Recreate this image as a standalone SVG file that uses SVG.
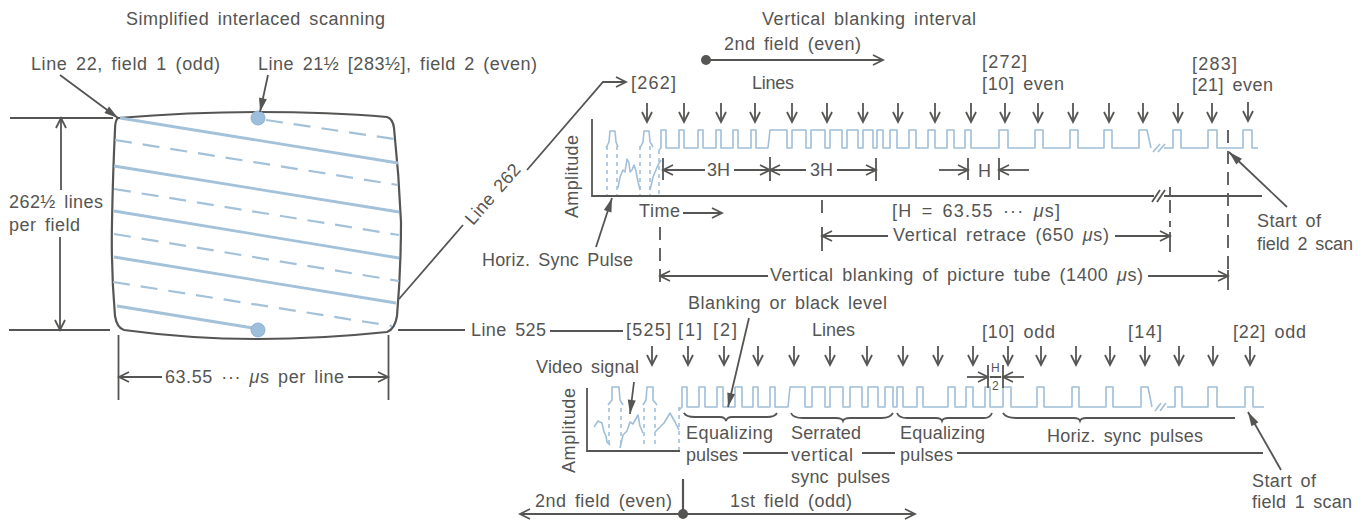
<svg xmlns="http://www.w3.org/2000/svg" width="1368" height="520" viewBox="0 0 1368 520">
<style>
text{font-family:"Liberation Sans",Arial,sans-serif;font-size:18px;fill:#555553;word-spacing:3px}
text.small{font-size:12px;word-spacing:0}
.l{fill:none;stroke:#555553;stroke-width:1.8}
.t{fill:none;stroke:#555553;stroke-width:2.2}
.a{marker-end:url(#open)}
.s{marker-end:url(#solid)}
.d{fill:none;stroke:#555553;stroke-width:1.8;stroke-dasharray:13 8}
.sc{fill:none;stroke:#a3c1d9;stroke-width:2.8}
.sd{fill:none;stroke:#a3c1d9;stroke-width:2.2;stroke-dasharray:17 11}
.w{fill:none;stroke:#a0bfd8;stroke-width:1.6;stroke-linejoin:round}
.wd{fill:none;stroke:#a3c1d9;stroke-width:1.6;stroke-dasharray:4 4}
.dot{fill:#9dbfdc;stroke:#8fb3cf}
</style>
<defs>
<marker id="open" markerUnits="userSpaceOnUse" markerWidth="14" markerHeight="14" viewBox="-12 -7 14 14" refX="0" refY="0" orient="auto-start-reverse"><path d="M-10,-5 L0,0 L-10,5" fill="none" stroke="#555553" stroke-width="1.8"/></marker>
<marker id="solid" markerUnits="userSpaceOnUse" markerWidth="18" markerHeight="10" viewBox="-16 -5 18 10" refX="0" refY="0" orient="auto"><path d="M-14,-4 L0,0 L-14,4 Z" fill="#555553"/></marker>
<g id="da"><path class="l a" d="M0,0 V19"/></g>
</defs>
<rect width="1368" height="520" fill="#fff"/>

<g id="raster">
<path class="t" d="M118,118 Q190,112 258,112 Q330,112 387,117 Q393,119 394,128 Q399,175 401,222 Q401,270 397,316 Q395,329 387,332 Q320,339 258,339 Q190,339 124,330 Q117,328 115,316 Q111,270 112,222 Q113,170 115,130 Q115,120 118,118 Z"/>
<path class="sc" d="M120,118 L398,163 M114,166 L399,212 M114,211 L399,258 M114,257 L396,303 M117,306 L253,328"/>
<path class="sd" d="M266,120 L394,139 M115,140 L398,185 M114,189 L399,235 M114,234 L399,281 M113,282 L392,326"/>
<circle class="dot" cx="258" cy="118" r="7"/>
<circle class="dot" cx="258" cy="330" r="7"/>
</g>

<g id="raster-labels">
<text x="126" y="25" textLength="259">Simplified interlaced scanning</text>
<text x="31" y="70" textLength="189">Line 22, field 1 (odd)</text>
<text x="258" y="70" textLength="279">Line 21½ [283½], field 2 (even)</text>
<text x="9" y="208" textLength="94">262½ lines</text>
<text x="9" y="231" textLength="71">per field</text>
<text x="165" y="383" textLength="179">63.55 ··· <tspan font-style="italic">μ</tspan>s per line</text>
<text x="471" y="336" textLength="75">Line 525</text>
</g>

<g id="chart-top-labels">
<text x="762" y="25" textLength="214">Vertical blanking interval</text>
<text x="724" y="50" textLength="137">2nd field (even)</text>
<text x="631" y="89" textLength="45">[262]</text>
<text x="752" y="89" textLength="42">Lines</text>
<text x="982" y="68" textLength="45">[272]</text>
<text x="982" y="90" textLength="82">[10] even</text>
<text x="1192" y="70" textLength="45">[283]</text>
<text x="1192" y="91" textLength="81">[21] even</text>
<text x="707" y="176">3H</text>
<text x="810" y="176">3H</text>
<text x="978" y="177">H</text>
<text transform="translate(578,218) rotate(-90)" textLength="83">Amplitude</text>
<text x="639" y="217" textLength="41">Time</text>
<text x="892" y="217" textLength="168">[H = 63.55 ··· <tspan font-style="italic">μ</tspan>s]</text>
<text x="893" y="241" textLength="216">Vertical retrace (650 <tspan font-style="italic">μ</tspan>s)</text>
<text x="770" y="281" textLength="373">Vertical blanking of picture tube (1400 <tspan font-style="italic">μ</tspan>s)</text>
<text x="482" y="266" textLength="151">Horiz. Sync Pulse</text>
<text x="1257" y="227" textLength="64">Start of</text>
<text x="1257" y="250" textLength="96">field 2 scan</text>
<text transform="translate(473,226) rotate(-49)" textLength="74">Line 262</text>
</g>

<g id="chart-bottom-labels">
<text x="688" y="309" textLength="199">Blanking or black level</text>
<text x="626" y="336" textLength="45">[525]</text>
<text x="678" y="336" textLength="24">[1]</text>
<text x="713" y="336" textLength="24">[2]</text>
<text x="812" y="336" textLength="43">Lines</text>
<text x="982" y="338" textLength="73">[10] odd</text>
<text x="1128" y="338" textLength="34">[14]</text>
<text x="1233" y="338" textLength="73">[22] odd</text>
<text x="536" y="373" textLength="103">Video signal</text>
<text transform="translate(575,473) rotate(-90)" textLength="85">Amplitude</text>
<text class="small" x="991" y="372">H</text>
<text class="small" x="992" y="390">2</text>
<text x="686" y="439" textLength="87">Equalizing</text>
<text x="686" y="461" textLength="52">pulses</text>
<text x="791" y="439" textLength="70">Serrated</text>
<text x="791" y="461" textLength="62">vertical</text>
<text x="791" y="483" textLength="99">sync pulses</text>
<text x="900" y="439" textLength="85">Equalizing</text>
<text x="900" y="461" textLength="53">pulses</text>
<text x="1047" y="442" textLength="156">Horiz. sync pulses</text>
<text x="1252" y="487" textLength="64">Start of</text>
<text x="1252" y="508" textLength="100">field 1 scan</text>
<text x="535" y="507" textLength="137">2nd field (even)</text>
<text x="730" y="507" textLength="122">1st field (odd)</text>
</g>

<g id="waveform-top">
<path class="w" d="M606,148 L609,142 L610,131 H615 L616,142 L618,147 M640,148 L643,142 L644,131 H649 L650,142 L653,147"/>
<path class="wd" d="M607,146 V195 M617,146 V195 M640,146 V195 M650,146 V195 M659,150 V195"/>
<path class="w" d="M618,188 L620,177 L623,170 L625,172 L627,159 L629,163 L630,172 L632,170 L634,165 L636,171 L637,177 L640,190 M650,190 L653,177 L658,165 L661,160"/>
<path class="w" d="M659,150 L661,148 V130 H666 V148 H679 V130 H684 V148 H698 V130 H703 V148 H716 V130 H721 V148 H733 V130 H738 V148 H751 V130 H756 V148 H768 L770,130 H787 V148 H792 V130 H806 V148 H811 V130 H825 V148 H830 V130 H842 V148 H847 V130 H858 V148 H863 V130 H873 V148 H877 V130 H883 V148 H890 V130 H897 V148 H909 V130 H916 V148 H928 V130 H935 V148 H947 V130 H954 V148 H965 V130 H971 V148 H999 V130 H1008 V148 H1035 V130 H1043 V148 H1070 V130 H1078 V148 H1104 V130 H1112 V148 H1139 V130 H1147 L1151,148 M1164,148 H1173 V130 H1181 V148 H1208 V130 H1217 V148 H1243 V130 H1252 V148 H1258 M1153,152 L1160,144 M1158,152 L1165,144"/>
</g>

<g id="waveform-bottom">
<path class="w" d="M608,405 L612,400 V387 H619 L620,400 L623,405 M643,405 L646,400 L647,387 H653 V400 L657,405"/>
<path class="wd" d="M609,408 V448 M621,408 V448 M644,408 V448 M655,408 V448 M679,407 V450"/>
<path class="w" d="M594,427 L598,421 L602,423 L604,432 L606,436 L607,442 L610,445 M620,448 L623,435 L627,431 L630,422 L633,424 L638,415 L640,426 L643,433 M655,432 L660,427 L664,423 L670,413 L675,422 L679,430"/>
<path class="w" d="M679,410 L682,407 V387 H687 V407 H699 V387 H705 V407 H717 V387 H723 V407 H735 V387 H742 V407 H753 V387 H758 V407 H770 V387 H775 V407 H788 L790,387 H805 V407 H812 V387 H825 V407 H830 V387 H843 V407 H850 V387 H862 V407 H868 V387 H878 V407 H885 V387 H893 V407 H897 V387 H903 V407 H917 V387 H923 V407 H948 V387 H955 V407 H966 V387 H973 V407 H985 V387 H990 V407 H1003 V387 H1011 V407 H1037 V387 H1044 V407 H1072 V387 H1079 V407 H1106 V387 H1113 V407 H1141 V387 H1148 L1152,407 M1167,407 H1175 V387 H1182 V407 H1208 V387 H1217 V407 H1245 V387 H1253 V407 H1264 M1155,411 L1161,403 M1160,411 L1166,403"/>
</g>

<g id="connectors">
<path class="l" d="M10,118 H113 M9,330 H110"/>
<path class="l a" d="M61,190 V118"/>
<path class="l a" d="M60,237 V330"/>
<path class="l" d="M118.500,335 V400 M388.500,335 V400"/>
<path class="l a" d="M162,377 H119"/>
<path class="l a" d="M348,377 H388"/>
<path class="l s" d="M60,75 L118,118"/>
<path class="l s" d="M268,75 L260,112"/>
<path class="l" d="M399,299 L463,225"/>
<path class="l a" d="M527,170 L603,82 H626"/>
<path class="l" d="M398,330 H465 M550,331 H623"/>

<path class="l" d="M592,119 V196 H1154 M1164,196 H1262 M1152,202 L1160,190 M1157,202 L1165,190"/>
<path class="l a" d="M683,213 H722"/>
<path class="l s" d="M596,247 L612,198"/>
<path class="l a" d="M706,60 H883"/>
<circle cx="706" cy="60" r="5" fill="#555553"/>
<path class="l" d="M663,158 V180 M770,157 V181 M876,158 V181 M968,158 V180 M999,158 V180"/>
<path class="l a" d="M705,170 H663"/>
<path class="l a" d="M734,170 H770"/>
<path class="l a" d="M806,170 H770"/>
<path class="l a" d="M837,170 H876"/>
<path class="l a" d="M939,170 H968"/>
<path class="l a" d="M1029,170 H999"/>
<path class="d" d="M660,227 V290 M822,200 V218 M1170,200 V227 M1228,130 V270"/>
<path class="l" d="M1170,187 V197 M822,227 V251 M1170,232 V252 M1228,270 V290"/>
<path class="l a" d="M888,236 H822"/>
<path class="l a" d="M1115,236 H1170"/>
<path class="l a" d="M768,276 H660"/>
<path class="l a" d="M1148,276 H1228"/>
<path class="l s" d="M1287,207 L1229,152"/>

<use href="#da" x="647" y="103"/><use href="#da" x="684" y="103"/><use href="#da" x="721" y="103"/><use href="#da" x="755" y="103"/><use href="#da" x="792" y="103"/><use href="#da" x="827" y="103"/><use href="#da" x="863" y="103"/><use href="#da" x="898" y="103"/><use href="#da" x="935" y="103"/><use href="#da" x="971" y="103"/><use href="#da" x="1005" y="103"/><use href="#da" x="1038" y="103"/><use href="#da" x="1073" y="103"/><use href="#da" x="1109" y="103"/><use href="#da" x="1143" y="103"/><use href="#da" x="1178" y="103"/><use href="#da" x="1212" y="103"/><use href="#da" x="1248" y="102"/>

<use href="#da" x="652" y="346"/><use href="#da" x="688" y="346"/><use href="#da" x="724" y="346"/><use href="#da" x="758" y="346"/><use href="#da" x="794" y="346"/><use href="#da" x="830" y="346"/><use href="#da" x="867" y="346"/><use href="#da" x="903" y="346"/><use href="#da" x="938" y="346"/><use href="#da" x="973" y="346"/><use href="#da" x="1008" y="346"/><use href="#da" x="1041" y="346"/><use href="#da" x="1076" y="346"/><use href="#da" x="1110" y="346"/><use href="#da" x="1145" y="346"/><use href="#da" x="1179" y="346"/><use href="#da" x="1213" y="346"/><use href="#da" x="1250" y="346"/>

<path class="l" d="M587,388 V451 H680"/>
<path class="l s" d="M749,318 L728,407"/>
<path class="l s" d="M634,382 L630,414"/>
<path class="l" d="M988,365 V388 M1003,365 V388 M990,377 H1001"/>
<path class="l a" d="M967,377 H988"/>
<path class="l a" d="M1024,377 H1003"/>
<path class="l" d="M684,413 Q686,417 695,417 H720 Q725,417 726,421 Q727,417 732,417 H767 Q775,417 777,413"/>
<path class="l" d="M791,413 Q793,418 803,418 H836 Q842,418 843,421 Q844,418 850,418 H882 Q890,418 893,413"/>
<path class="l" d="M897,413 Q899,418 907,418 H936 Q941,418 942,421 Q943,418 948,418 H984 Q990,418 992,413"/>
<path class="l" d="M1003,413 Q1006,418 1016,418 H1074 Q1079,418 1080,421 Q1081,418 1086,418 H1235"/>
<path class="l" d="M743,453 H788 M862,453 H895 M957,453 H1263"/>
<path class="l s" d="M1281,470 L1248,412"/>
<path class="t" d="M683,479 V514"/>
<circle cx="683" cy="514" r="5" fill="#555553"/>
<path class="l a" d="M683,514 H520"/>
<path class="l a" d="M683,514 H915"/>
</g>
</svg>
